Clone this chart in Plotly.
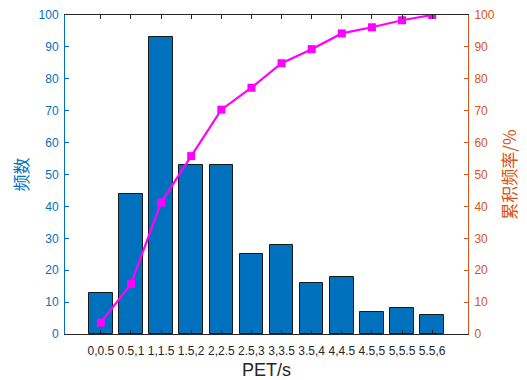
import plotly.graph_objects as go

categories = ["0,0.5", "0.5,1", "1,1.5", "1.5,2", "2,2.5", "2.5,3",
              "3,3.5", "3.5,4", "4,4.5", "4.5,5", "5,5.5", "5.5,6"]
freq = [13, 44, 93, 53, 53, 25, 28, 16, 18, 7, 8, 6]
cum_pct = [3.57, 15.66, 41.21, 55.77, 70.33, 77.20, 84.89, 89.29, 94.23, 96.15, 98.35, 100.0]
y_ticks = [0, 10, 20, 30, 40, 50, 60, 70, 80, 90, 100]

BLUE = "#0072BD"
ORANGE = "#D95319"
DARK = "#262626"
FONT = "Liberation Sans, Arial, sans-serif"
CJK = "Noto Sans CJK SC"

fig = go.Figure()
fig.add_trace(go.Bar(
    x=categories, y=freq, width=0.78,
    marker=dict(color=BLUE, line=dict(color="#1a1a1a", width=1)),
    yaxis="y", showlegend=False,
))
fig.add_trace(go.Scatter(
    x=categories, y=cum_pct, mode="lines+markers",
    line=dict(color="#FF00FF", width=2.2),
    marker=dict(symbol="square", size=8, color="#FF00FF"),
    yaxis="y2", showlegend=False,
))

fig.update_layout(
    width=527, height=380,
    margin=dict(l=65, r=59, t=15, b=46, autoexpand=False),
    plot_bgcolor="white", paper_bgcolor="white",
    font=dict(family=FONT, size=12, color=DARK),
    bargap=0,
    xaxis=dict(
        type="category", range=[-1.19, 12.19],
        ticks="inside", ticklen=4, tickcolor=DARK,
        showline=True, linecolor=DARK, linewidth=1, mirror="ticks",
        showgrid=False, tickangle=0, automargin=False,
        ticklabelstandoff=6,
        tickfont=dict(size=12, color=DARK, family=FONT),
        title=dict(text="PET/s", font=dict(size=18, color=DARK, family=FONT), standoff=6),
    ),
    yaxis=dict(
        range=[0, 100], tickvals=y_ticks,
        ticks="inside", ticklen=4, tickcolor=BLUE,
        showline=True, linecolor=BLUE, linewidth=1,
        showgrid=False, zeroline=False, automargin=False,
        ticklabelstandoff=3,
        tickfont=dict(size=12, color=BLUE, family=FONT),
        title=dict(text="频数", font=dict(size=17, color=BLUE, family=CJK), standoff=5),
    ),
    yaxis2=dict(
        range=[0, 100], tickvals=y_ticks, overlaying="y", side="right",
        ticks="inside", ticklen=4, tickcolor=ORANGE,
        showline=True, linecolor=ORANGE, linewidth=1,
        showgrid=False, zeroline=False, automargin=False,
        ticklabelstandoff=3,
        tickfont=dict(size=12, color=ORANGE, family=FONT),
        title=dict(text="累积频率/%", font=dict(size=17, color=ORANGE, family=CJK), standoff=10),
    ),
)

fig.write_html("out.html", config={"displayModeBar": False},
               post_script="document.body.style.margin='0';")
